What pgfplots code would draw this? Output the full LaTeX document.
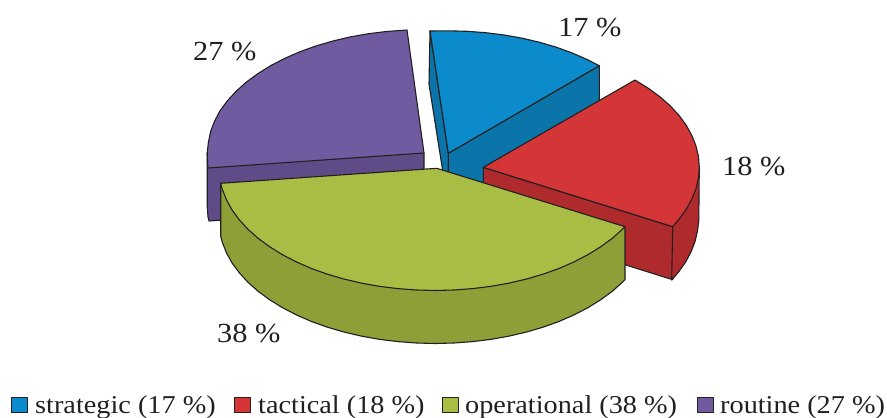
\documentclass[border=0pt]{standalone}
\usepackage{pgfplots}
\pgfplotsset{compat=1.18}
\usepackage{fontspec}
\setmainfont[FakeStretch=1.1]{Liberation Serif}
\definecolor{ink}{HTML}{231F20}
\definecolor{bt}{HTML}{0B8BCC}\definecolor{bs}{HTML}{0B74A9}
\definecolor{rt}{HTML}{D43638}\definecolor{rs}{HTML}{AF2A2C}
\definecolor{gt}{HTML}{A9BD45}\definecolor{gs}{HTML}{8F9F38}
\definecolor{pt}{HTML}{705BA0}\definecolor{ps}{HTML}{604B89}
\begin{document}
\begin{tikzpicture}[x=1pt,y=1pt]
\path[use as bounding box] (0,0) rectangle (887,418);
\begin{axis}[at={(0,0)},anchor=south west,width=887pt,height=418pt,scale only axis,
  xmin=0,xmax=887,ymin=0,ymax=418,y dir=reverse,hide axis,clip=false,
  every axis plot/.append style={draw=ink,line width=1.1pt,line join=round,forget plot}]
% blue: side faces, top
\addplot[fill=bs] coordinates {(430,31)(448.3,153.3)(448.3,206.3)(429,84)} --cycle;
\addplot[fill=bs] coordinates {(448.3,153.3)(599.3,65.7)(599.3,118.7)(448.3,206.3)} --cycle;
\addplot[fill=bt] coordinates {(448.3,153.3)(430,31)(448.3,30.8)(467.1,31.3)(485.8,32.7)(504.2,35)(522.2,38.2)(539.6,42.3)(556.3,47.2)(572.2,53)(587.1,59.5)(599.3,65.7)} --cycle;
% purple
\addplot[fill=ps] coordinates {(207.2,153)(207.2,206)(208,216.8)(209,221)(424,206)(424,153)} --cycle;
\addplot[fill=pt] coordinates {(424,153)(208,168)(207.6,163.8)(207.2,153)(208.4,142.2)(210.6,131.6)(214.6,121.1)(220,110.8)(227.3,100.9)(236.1,91.3)(246.2,82.2)(257.8,73.7)(270.6,65.7)(284.5,58.5)(299.5,51.9)(315.5,46.1)(332.3,41.2)(349.8,37)(367.8,33.8)(386.3,31.5)(407,30)} --cycle;
% red
\addplot[fill=rs] coordinates {(483.3,167.3)(483.3,220.3)(672.7,279.7)(672.7,226.7)} --cycle;
\addplot[fill=rs] coordinates {(699.3,167.3)(698.8,220.3)(697.5,231)(695,241.6)(691,252)(685.5,262.2)(678.5,272.1)(671.7,280)(672.7,226.7)} --cycle;
\addplot[fill=rt] coordinates {(483.3,167.3)(635,80)(648.8,88.6)(660.2,97)(670.4,106)(679.1,115.5)(686.3,125.4)(691.9,135.6)(696,146)(698.5,156.6)(699.3,167.3)(698.5,178)(696,188.6)(691.9,199)(686.3,209.2)(679.1,219.1)(672.7,226.7)} --cycle;
% green
\addplot[fill=gs] coordinates {(625,226.7)(625,279.7)(622.4,282.3)(612.3,291.3)(600.8,299.7)(588.1,307.6)(574.2,314.8)(559.2,321.4)(543.3,327.1)(526.6,332)(509.1,336.1)(491.2,339.3)(472.7,341.6)(454.1,343)(435.2,343.5)(416.3,343)(397.7,341.6)(379.2,339.3)(361.3,336.1)(343.8,332)(327.1,327.1)(311.2,321.4)(296.2,314.8)(282.3,307.6)(269.6,299.7)(258.1,291.3)(248,282.3)(239.3,272.8)(232,262.9)(226.4,252.7)(222.3,242.3)(220.7,236.3)(220.7,183.3)} --cycle;
\addplot[fill=gt] coordinates {(436.7,168.3)(625,226.7)(622.4,229.3)(612.3,238.3)(600.8,246.7)(588.1,254.6)(574.2,261.8)(559.2,268.4)(543.3,274.1)(526.6,279)(509.1,283.1)(491.2,286.3)(472.7,288.6)(454.1,290)(435.2,290.5)(416.3,290)(397.7,288.6)(379.2,286.3)(361.3,283.1)(343.8,279)(327.1,274.1)(311.2,268.4)(296.2,261.8)(282.3,254.6)(269.6,246.7)(258.1,238.3)(248,229.3)(239.3,219.8)(232,209.9)(226.4,199.7)(222.3,189.3)(220.7,183.3)} --cycle;
% legend keys
\addplot[fill=bt,line width=0.7pt] coordinates {(11,397)(27,397)(27,412.5)(11,412.5)} --cycle;
\addplot[fill=rt,line width=0.7pt] coordinates {(234,397)(250,397)(250,412.5)(234,412.5)} --cycle;
\addplot[fill=gt,line width=0.7pt] coordinates {(442,397)(458,397)(458,412.5)(442,412.5)} --cycle;
\addplot[fill=pt,line width=0.7pt] coordinates {(697,397)(713,397)(713,412.5)(697,412.5)} --cycle;
% labels
\tikzset{lab/.style={anchor=base west,inner sep=0pt,text=ink,font=\fontsize{27.6}{27.6}\selectfont},
         leg/.style={anchor=base west,inner sep=0pt,text=ink,font=\fontsize{25.7}{25.7}\selectfont}}
\node[lab] at (axis cs:558,36) {17 \%};
\node[lab] at (axis cs:193,60) {27 \%};
\node[lab] at (axis cs:722,175) {18 \%};
\node[lab] at (axis cs:217,342) {38 \%};
\node[leg] at (axis cs:35,413) {strategic (17 \%)};
\node[leg] at (axis cs:258,413) {tactical (18 \%)};
\node[leg] at (axis cs:465,413) {operational (38 \%)};
\node[leg] at (axis cs:720,413) {routine (27 \%)};
\end{axis}
\end{tikzpicture}
\end{document}
